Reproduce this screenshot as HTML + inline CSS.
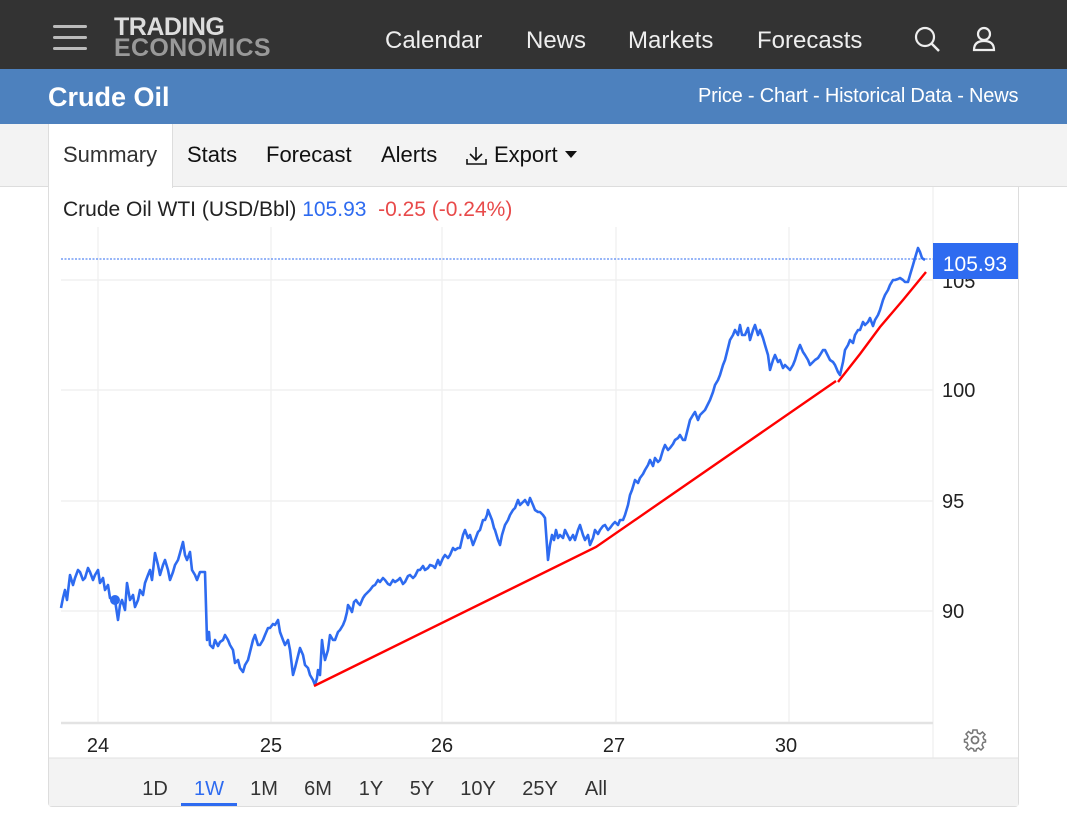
<!DOCTYPE html>
<html><head><meta charset="utf-8"><style>
*{margin:0;padding:0;box-sizing:border-box}
body{width:1067px;height:833px;background:#fff;font-family:"Liberation Sans",Arial,sans-serif;position:relative;overflow:hidden}
.top{position:absolute;left:0;top:0;width:1067px;height:69px;background:#333}
.bar{position:absolute;left:0;top:69px;width:1067px;height:55px;background:#4d81be}
.a{position:absolute;white-space:nowrap}
.tabs{position:absolute;left:0;top:124px;width:1067px;height:63px;background:#f3f3f3;border-bottom:1px solid #ddd}
.ham{position:absolute;left:53px;width:34px;height:3px;background:#bbb;border-radius:2px}
</style></head><body>
<div class="top"></div>
<div class="ham" style="top:25px"></div><div class="ham" style="top:36px"></div><div class="ham" style="top:47px"></div>
<div class="a" style="left:114px;top:16px;font-size:25px;font-weight:bold;color:#ddd;letter-spacing:-0.5px;line-height:22px">TRADING</div>
<div class="a" style="left:114px;top:37px;font-size:25px;font-weight:bold;color:#999;letter-spacing:0.3px;line-height:22px">ECONOMICS</div>
<div class="a" style="left:385px;top:27px;font-size:24px;color:#eee">Calendar</div>
<div class="a" style="left:526px;top:27px;font-size:24px;color:#eee">News</div>
<div class="a" style="left:628px;top:27px;font-size:24px;color:#eee">Markets</div>
<div class="a" style="left:757px;top:27px;font-size:24px;color:#eee">Forecasts</div>
<svg class="a" style="left:912px;top:25px" width="30" height="30"><circle cx="13" cy="12" r="9" fill="none" stroke="#eee" stroke-width="2.2"/><line x1="19.5" y1="18.5" x2="27" y2="26" stroke="#eee" stroke-width="2.5"/></svg>
<svg class="a" style="left:970px;top:24px" width="30" height="30"><circle cx="14" cy="10" r="6" fill="none" stroke="#eee" stroke-width="2.2"/><path d="M4 26 Q4 17 14 17 Q24 17 24 26 Z" fill="none" stroke="#eee" stroke-width="2.2"/></svg>
<div class="bar"></div>
<div class="a" style="left:48px;top:82px;font-size:27px;font-weight:bold;color:#fff">Crude Oil</div>
<div class="a" style="left:698px;top:85px;font-size:20px;color:#fff;letter-spacing:-0.2px">Price - Chart - Historical Data - News</div>
<div class="tabs"></div>
<div class="a" style="left:48px;top:124px;width:125px;height:64px;background:#fff;border-left:1px solid #ddd;border-right:1px solid #ddd"></div>
<div class="a" style="left:63px;top:142px;font-size:22px;color:#333">Summary</div>
<div class="a" style="left:187px;top:142px;font-size:22px;color:#111">Stats</div>
<div class="a" style="left:266px;top:142px;font-size:22px;color:#111">Forecast</div>
<div class="a" style="left:381px;top:142px;font-size:22px;color:#111">Alerts</div>
<svg class="a" style="left:465px;top:145px" width="24" height="22"><path d="M11 2 V15 M5 9 L11 15 L17 9 M2 14 V19 H21 V14" fill="none" stroke="#111" stroke-width="1.6"/></svg>
<div class="a" style="left:494px;top:142px;font-size:22px;color:#111">Export</div>
<svg class="a" style="left:565px;top:151px" width="12" height="8"><path d="M0 0 H12 L6 7Z" fill="#111"/></svg>
<div class="a" style="left:48px;top:187px;width:971px;height:620px;border:1px solid #ddd;border-top:none;border-radius:0 0 4px 4px"></div>
<div class="a" style="left:63px;top:198px;font-size:21px;color:#222">Crude Oil WTI (USD/Bbl) <span style="color:#2e6bf0">105.93</span>&nbsp; <span style="color:#e84a4a">-0.25 (-0.24%)</span></div>
<svg class="a" style="left:0;top:0" width="1067" height="833">
<g stroke="#eee" stroke-width="1.2">
<line x1="98" y1="227" x2="98" y2="723"/><line x1="271" y1="227" x2="271" y2="723"/><line x1="442" y1="227" x2="442" y2="723"/><line x1="616" y1="227" x2="616" y2="723"/><line x1="789" y1="227" x2="789" y2="723"/>
<line x1="61" y1="280" x2="933" y2="280"/><line x1="61" y1="390" x2="933" y2="390"/><line x1="61" y1="501" x2="933" y2="501"/><line x1="61" y1="611" x2="933" y2="611"/>
<line x1="933" y1="187" x2="933" y2="758"/>
</g>
<line x1="61" y1="723" x2="933" y2="723" stroke="#e3e3e3" stroke-width="2.5"/>
<line x1="61" y1="259" x2="933" y2="259" stroke="#2e6bf0" stroke-width="1" stroke-dasharray="2,1.5"/>
<polyline fill="none" stroke="#2e6bf0" stroke-width="2.6" stroke-linejoin="round" points="61,608 63,598 65,590 67,600 70,575 73,585 75,578 78,570 80,572 83,580 85,578 88,568 90,572 93,580 95,575 98,570 100,583 103,578 105,590 108,585 110,598 115,600 118,620 120,605 122,600 125,610 127,583 130,600 133,595 135,607 138,600 140,590 143,595 145,583 148,575 150,570 152,580 155,553 158,565 160,575 163,565 165,560 168,570 170,580 173,572 175,565 178,560 180,553 183,542 185,555 187,560 190,552 192,570 195,575 197,580 200,572 205,572 207,640 209,632 210,645 213,648 215,640 218,646 220,642 223,640 225,635 228,640 230,645 233,650 235,663 238,660 240,668 243,672 245,665 248,660 250,652 253,640 255,635 258,645 260,645 263,640 265,635 268,628 270,628 273,624 275,625 278,620 280,632 283,640 285,645 288,640 290,650 293,675 295,668 297,660 300,648 303,655 305,665 308,668 310,675 313,680 315,685 317,678 318,670 320,675 322,640 323,648 325,660 328,650 330,635 333,640 335,640 338,632 340,630 343,625 345,620 347,612 348,605 350,608 352,612 354,602 356,600 358,603 360,605 363,598 365,595 368,592 370,590 373,586 375,585 378,580 380,582 383,578 385,580 388,584 390,585 393,580 395,582 398,580 400,578 403,584 405,582 408,576 410,575 413,578 415,576 418,570 420,570 423,566 425,570 428,568 430,565 433,566 435,568 438,560 440,565 443,558 445,555 448,558 450,555 453,548 455,550 458,548 460,548 463,535 465,530 468,538 470,535 473,545 475,540 478,532 480,530 483,520 485,520 487,515 488,510 490,515 492,520 494,528 495,530 498,540 500,545 502,535 505,525 508,520 510,515 513,510 515,508 518,500 520,505 523,502 525,500 528,505 530,498 533,505 535,510 538,512 540,512 543,515 545,518 548,560 550,545 552,535 554,540 556,530 558,538 560,535 563,538 565,530 568,536 570,540 573,535 575,540 578,530 580,525 583,535 585,540 588,535 590,545 593,538 595,530 598,534 600,530 603,526 605,525 608,530 610,528 613,524 615,522 618,525 620,520 623,520 625,515 628,505 630,495 632,490 635,480 638,483 640,478 643,474 645,470 648,465 650,460 653,466 655,458 658,462 660,460 663,450 665,445 668,450 670,448 673,444 675,440 678,438 680,435 683,440 685,440 688,428 690,420 693,415 695,412 698,420 700,415 703,412 705,410 708,404 710,400 713,392 715,385 718,380 720,375 723,365 725,360 728,348 730,340 733,335 735,330 738,335 740,325 742,335 745,335 748,328 750,340 753,330 755,325 758,335 760,330 763,338 765,345 768,355 770,370 773,360 775,355 778,362 780,360 783,368 785,365 788,368 790,370 793,365 795,360 798,350 800,345 803,352 805,355 808,360 810,365 813,362 815,360 818,358 820,355 823,350 825,350 828,356 830,360 833,362 835,365 838,372 840,375 843,362 845,350 848,345 850,340 853,343 855,335 858,330 860,330 863,322 865,325 868,322 870,318 873,326 875,320 878,315 880,310 883,300 885,295 888,290 890,285 893,280 895,280 898,279 900,278 903,280 905,282 908,282 910,275 913,265 915,258 918,248 920,252 922,258 925,260"/>
<circle cx="115" cy="600" r="5" fill="#2e6bf0"/>
<polyline fill="none" stroke="#f00" stroke-width="2.4" points="314,686 596,547 836,381"/>
<polyline fill="none" stroke="#f00" stroke-width="2.4" points="838,382 860,354 880,327 903,300 926,272"/>
<g font-size="20" fill="#222" font-family="Liberation Sans,sans-serif">
<text x="942" y="288">105</text>
</g>
<rect x="933" y="243" width="85" height="36" fill="#2e6bf0"/>
<text x="975" y="271" font-size="21" fill="#fff" text-anchor="middle" font-family="Liberation Sans,sans-serif">105.93</text>
<g font-size="20" fill="#222" font-family="Liberation Sans,sans-serif">
<text x="942" y="397">100</text><text x="942" y="508">95</text><text x="942" y="618">90</text>
<text x="98" y="752" text-anchor="middle">24</text><text x="271" y="752" text-anchor="middle">25</text><text x="442" y="752" text-anchor="middle">26</text><text x="614" y="752" text-anchor="middle">27</text><text x="786" y="752" text-anchor="middle">30</text>
</g>
<g transform="translate(975,740)" fill="none" stroke="#777" stroke-width="1.8"><circle r="3.5"/><path d="M-2 -10 H2 L2.5 -7 L5 -6 L7.5 -8 L10 -5.5 L8 -3 L9 -0.5 L10.5 -0 L10.5 2 L8 2.5 L7 5 L8.5 7.5 L6 10 L3.5 8 L1.5 9 L1 11 H-1 L-1.5 9 L-4 8 L-6.5 10 L-9 7.5 L-7 5 L-8 2.5 L-10.5 2 V-0.5 L-8 -1 L-7 -3.5 L-9 -6 L-6.5 -8.5 L-4 -6.5 L-2.5 -7 Z" stroke-width="1.5"/></g>
<rect x="49" y="758" width="969" height="48" fill="#f3f3f3"/>
<line x1="49" y1="758" x2="1018" y2="758" stroke="#e2e2e2"/>
<g font-size="20" fill="#333" font-family="Liberation Sans,sans-serif" text-anchor="middle">
<text x="155" y="795">1D</text><text x="209" y="795" fill="#2e6bf0">1W</text><text x="264" y="795">1M</text><text x="318" y="795">6M</text><text x="371" y="795">1Y</text><text x="422" y="795">5Y</text><text x="478" y="795">10Y</text><text x="540" y="795">25Y</text><text x="596" y="795">All</text>
</g>
<rect x="181" y="803" width="56" height="3" fill="#2e6bf0"/>
</svg>
</body></html>
